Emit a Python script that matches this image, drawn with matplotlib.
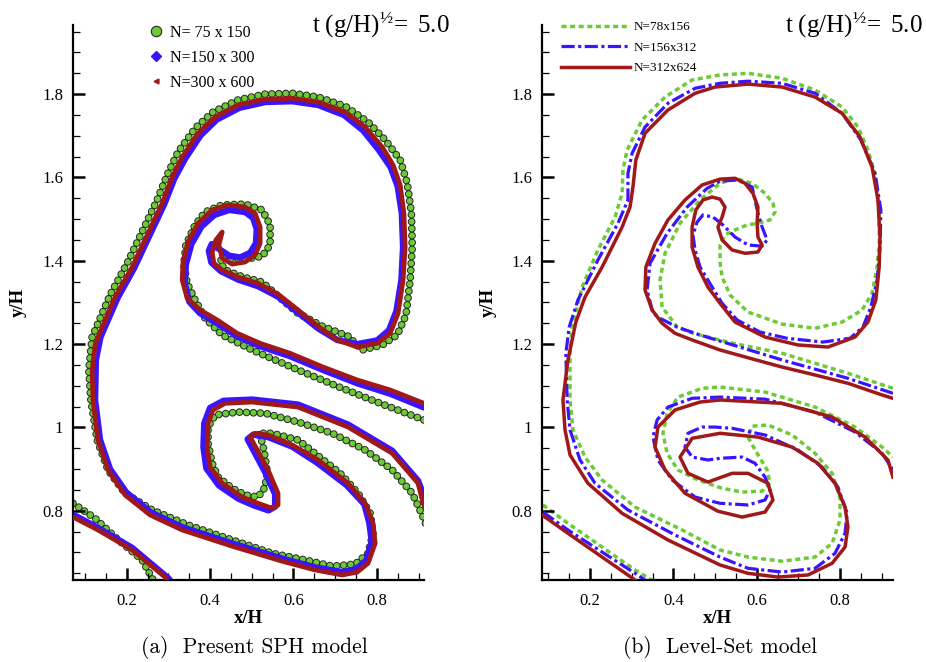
"""Interface at t(g/H)^1/2 = 5: SPH particles (a) vs Level-Set contours (b)."""

import matplotlib.pyplot as plt
from matplotlib.lines import Line2D
from matplotlib.ticker import FuncFormatter, MultipleLocator

plt.rcParams["font.family"] = "Liberation Serif"
plt.rcParams["mathtext.fontset"] = "custom"
plt.rcParams["mathtext.rm"] = "Liberation Serif"
plt.rcParams["mathtext.it"] = "Liberation Serif:italic"
plt.rcParams["mathtext.bf"] = "Liberation Serif:bold"
plt.rcParams["lines.scale_dashes"] = False

GREEN = "#6ccb34"
BLUE = "#3a14ff"
RED = "#a01818"

# ---- (a) SPH, interface traced through the particle bands (x/H, y/H) ----
sph300_main = [
    (0.913, 1.058), (0.832, 1.090), (0.753, 1.114), (0.671, 1.145), (0.592, 1.178),
    (0.520, 1.202), (0.465, 1.226), (0.417, 1.258), (0.376, 1.282), (0.345, 1.310),
    (0.333, 1.354), (0.335, 1.397), (0.347, 1.445), (0.371, 1.490), (0.405, 1.522),
    (0.443, 1.534), (0.484, 1.529), (0.508, 1.514), (0.520, 1.481), (0.520, 1.442),
    (0.508, 1.414), (0.484, 1.397), (0.453, 1.392), (0.429, 1.406), (0.421, 1.438),
    (0.429, 1.469), (0.414, 1.450), (0.405, 1.421), (0.409, 1.394), (0.429, 1.378),
    (0.467, 1.361), (0.515, 1.346), (0.563, 1.320), (0.611, 1.282), (0.659, 1.243),
    (0.705, 1.210), (0.753, 1.193), (0.801, 1.202), (0.832, 1.226), (0.851, 1.274),
    (0.863, 1.354), (0.868, 1.433), (0.865, 1.514), (0.856, 1.582), (0.839, 1.630),
    (0.813, 1.673), (0.772, 1.721), (0.724, 1.757), (0.659, 1.781), (0.597, 1.790),
    (0.532, 1.788), (0.467, 1.774), (0.412, 1.745), (0.371, 1.706), (0.333, 1.649),
    (0.309, 1.601), (0.285, 1.538), (0.251, 1.466), (0.213, 1.385), (0.172, 1.313),
    (0.131, 1.217), (0.124, 1.198), (0.117, 1.138), (0.119, 1.066), (0.131, 0.970),
    (0.155, 0.898), (0.196, 0.838), (0.256, 0.790), (0.333, 0.754), (0.453, 0.715),
    (0.573, 0.679), (0.652, 0.658), (0.717, 0.646), (0.753, 0.653), (0.779, 0.674),
    (0.796, 0.722), (0.791, 0.770), (0.772, 0.818), (0.731, 0.866), (0.659, 0.922),
    (0.597, 0.958), (0.539, 0.982), (0.508, 0.986), (0.496, 0.977), (0.513, 0.946),
    (0.539, 0.898), (0.563, 0.842), (0.563, 0.814), (0.549, 0.806), (0.515, 0.818),
    (0.477, 0.833), (0.429, 0.866), (0.400, 0.905), (0.393, 0.953), (0.395, 1.010),
    (0.407, 1.042), (0.436, 1.058), (0.501, 1.061), (0.611, 1.049), (0.731, 1.001),
    (0.837, 0.938), (0.899, 0.866), (0.911, 0.818), (0.923, 0.790),
]
sph300_low = [(0.071, 0.785), (0.131, 0.754), (0.213, 0.706), (0.292, 0.641), (0.304, 0.622)]

sph150_main = [
    (0.913, 1.048), (0.832, 1.081), (0.753, 1.106), (0.671, 1.138), (0.592, 1.171),
    (0.520, 1.195), (0.465, 1.219), (0.417, 1.250), (0.376, 1.274), (0.350, 1.302),
    (0.339, 1.346), (0.342, 1.392), (0.355, 1.440), (0.379, 1.482), (0.410, 1.510),
    (0.446, 1.522), (0.484, 1.517), (0.503, 1.503), (0.512, 1.476), (0.510, 1.442),
    (0.496, 1.419), (0.472, 1.408), (0.446, 1.412), (0.422, 1.428), (0.404, 1.440),
    (0.397, 1.424), (0.403, 1.396), (0.426, 1.375), (0.467, 1.355), (0.515, 1.339),
    (0.563, 1.314), (0.611, 1.276), (0.659, 1.238), (0.705, 1.210), (0.753, 1.200),
    (0.801, 1.209), (0.829, 1.233), (0.847, 1.279), (0.859, 1.354), (0.863, 1.433),
    (0.860, 1.514), (0.850, 1.579), (0.833, 1.625), (0.804, 1.667), (0.767, 1.713),
    (0.721, 1.750), (0.659, 1.774), (0.597, 1.783), (0.532, 1.781), (0.470, 1.767),
    (0.416, 1.739), (0.377, 1.701), (0.340, 1.645), (0.314, 1.597), (0.290, 1.536),
    (0.256, 1.464), (0.218, 1.383), (0.178, 1.311), (0.137, 1.217), (0.126, 1.162),
    (0.124, 1.066), (0.136, 0.970), (0.160, 0.900), (0.199, 0.844), (0.258, 0.796),
    (0.335, 0.760), (0.455, 0.721), (0.574, 0.685), (0.653, 0.664), (0.717, 0.653),
    (0.750, 0.660), (0.775, 0.681), (0.788, 0.726), (0.782, 0.771), (0.770, 0.816),
    (0.727, 0.862), (0.656, 0.916), (0.597, 0.954), (0.539, 0.977), (0.504, 0.983),
    (0.490, 0.972), (0.507, 0.940), (0.532, 0.893), (0.556, 0.840), (0.556, 0.810),
    (0.540, 0.801), (0.505, 0.813), (0.468, 0.829), (0.421, 0.861), (0.391, 0.902),
    (0.384, 0.953), (0.386, 1.010), (0.400, 1.047), (0.432, 1.064), (0.501, 1.067),
    (0.611, 1.055), (0.731, 1.007), (0.837, 0.944), (0.899, 0.872), (0.923, 0.808),
]
sph150_low = [(0.071, 0.791), (0.131, 0.759), (0.213, 0.711), (0.300, 0.638), (0.313, 0.620)]

sph75_main = [
    (0.913, 1.018), (0.813, 1.056), (0.717, 1.094), (0.611, 1.138), (0.501, 1.186),
    (0.429, 1.222), (0.388, 1.262), (0.364, 1.306), (0.345, 1.346), (0.337, 1.390),
    (0.342, 1.438), (0.364, 1.486), (0.388, 1.517), (0.429, 1.534), (0.484, 1.536),
    (0.525, 1.522), (0.544, 1.486), (0.544, 1.438), (0.525, 1.411), (0.484, 1.404),
    (0.448, 1.406), (0.433, 1.414), (0.424, 1.397), (0.436, 1.378), (0.479, 1.361),
    (0.525, 1.349), (0.563, 1.315), (0.611, 1.274), (0.669, 1.243), (0.731, 1.219),
    (0.765, 1.186), (0.813, 1.198), (0.849, 1.222), (0.870, 1.270), (0.880, 1.354),
    (0.885, 1.433), (0.883, 1.514), (0.873, 1.586), (0.856, 1.642), (0.820, 1.690),
    (0.779, 1.733), (0.724, 1.771), (0.659, 1.793), (0.597, 1.802), (0.532, 1.800),
    (0.467, 1.786), (0.407, 1.757), (0.364, 1.718), (0.323, 1.661), (0.297, 1.606),
    (0.273, 1.546), (0.239, 1.474), (0.201, 1.394), (0.160, 1.318), (0.117, 1.217),
    (0.109, 1.138), (0.114, 1.066), (0.129, 0.970), (0.155, 0.898), (0.196, 0.842),
    (0.261, 0.802), (0.347, 0.766), (0.453, 0.730), (0.549, 0.698), (0.628, 0.682),
    (0.693, 0.667), (0.748, 0.672), (0.779, 0.698), (0.791, 0.746), (0.784, 0.794),
    (0.755, 0.842), (0.712, 0.890), (0.611, 0.970), (0.549, 0.986), (0.515, 0.986),
    (0.525, 0.965), (0.532, 0.929), (0.537, 0.893), (0.532, 0.857), (0.515, 0.833),
    (0.484, 0.838), (0.453, 0.854), (0.419, 0.881), (0.405, 0.914), (0.395, 0.962),
    (0.395, 1.001), (0.412, 1.030), (0.467, 1.037), (0.532, 1.034), (0.611, 1.013),
    (0.693, 0.986), (0.772, 0.946), (0.837, 0.898), (0.885, 0.842), (0.911, 0.785),
    (0.923, 0.754),
]
sph75_low = [(0.071, 0.818), (0.124, 0.782), (0.172, 0.737), (0.237, 0.682), (0.261, 0.638), (0.270, 0.622)]

# ---- (b) Level-Set zero contours (x/H, y/H) ----
ls312_main = [
    (0.927, 1.070), (0.901, 1.078), (0.819, 1.106), (0.740, 1.126), (0.661, 1.145),
    (0.584, 1.166), (0.512, 1.186), (0.445, 1.210), (0.404, 1.226), (0.373, 1.250),
    (0.349, 1.282), (0.332, 1.330), (0.334, 1.385), (0.356, 1.442), (0.387, 1.498),
    (0.428, 1.546), (0.469, 1.582), (0.512, 1.596), (0.548, 1.598), (0.572, 1.586),
    (0.591, 1.562), (0.603, 1.529), (0.601, 1.490), (0.603, 1.457), (0.613, 1.438),
    (0.603, 1.421), (0.572, 1.418), (0.541, 1.426), (0.517, 1.450), (0.507, 1.481),
    (0.517, 1.505), (0.524, 1.529), (0.512, 1.548), (0.493, 1.553), (0.471, 1.546),
    (0.454, 1.522), (0.445, 1.481), (0.445, 1.433), (0.459, 1.385), (0.483, 1.337),
    (0.512, 1.298), (0.548, 1.253), (0.620, 1.217), (0.699, 1.198), (0.771, 1.193),
    (0.836, 1.217), (0.867, 1.253), (0.886, 1.306), (0.894, 1.385), (0.896, 1.457),
    (0.891, 1.546), (0.877, 1.625), (0.848, 1.697), (0.805, 1.754), (0.740, 1.793),
    (0.661, 1.817), (0.579, 1.824), (0.500, 1.817), (0.452, 1.802), (0.387, 1.762),
    (0.332, 1.706), (0.310, 1.642), (0.303, 1.577), (0.296, 1.529), (0.277, 1.481),
    (0.229, 1.385), (0.188, 1.313), (0.166, 1.253), (0.147, 1.162), (0.135, 1.066),
    (0.140, 0.994), (0.152, 0.934), (0.195, 0.866), (0.277, 0.794), (0.387, 0.730),
    (0.512, 0.670), (0.579, 0.650), (0.651, 0.641), (0.723, 0.646), (0.781, 0.674),
    (0.812, 0.713), (0.819, 0.761), (0.812, 0.809), (0.788, 0.866), (0.747, 0.914),
    (0.685, 0.953), (0.603, 0.977), (0.512, 0.986), (0.445, 0.974), (0.416, 0.929),
    (0.435, 0.890), (0.483, 0.869), (0.541, 0.890), (0.579, 0.890), (0.627, 0.866),
    (0.639, 0.826), (0.620, 0.797), (0.565, 0.785), (0.507, 0.799), (0.428, 0.842),
    (0.380, 0.898), (0.356, 0.953), (0.363, 1.001), (0.404, 1.042), (0.464, 1.061),
    (0.512, 1.066), (0.661, 1.058), (0.781, 1.025), (0.860, 0.977), (0.915, 0.922),
    (0.927, 0.881),
]
ls312_low = [(0.085, 0.790), (0.147, 0.746), (0.229, 0.689), (0.308, 0.634), (0.332, 0.614)]

ls156_main = [
    (0.927, 1.082), (0.819, 1.118), (0.661, 1.162), (0.543, 1.198), (0.464, 1.222),
    (0.409, 1.241), (0.368, 1.262), (0.351, 1.274), (0.337, 1.330), (0.344, 1.394),
    (0.385, 1.466), (0.433, 1.529), (0.481, 1.574), (0.512, 1.591), (0.555, 1.594),
    (0.589, 1.577), (0.603, 1.514), (0.613, 1.481), (0.625, 1.450), (0.613, 1.435),
    (0.579, 1.438), (0.548, 1.457), (0.519, 1.486), (0.495, 1.505), (0.471, 1.510),
    (0.457, 1.493), (0.447, 1.462), (0.452, 1.426), (0.464, 1.385), (0.493, 1.337),
    (0.517, 1.298), (0.553, 1.258), (0.608, 1.229), (0.673, 1.214), (0.759, 1.205),
    (0.824, 1.214), (0.855, 1.241), (0.874, 1.289), (0.889, 1.354), (0.896, 1.433),
    (0.898, 1.522), (0.884, 1.610), (0.850, 1.690), (0.805, 1.754), (0.740, 1.802),
    (0.661, 1.826), (0.579, 1.831), (0.512, 1.826), (0.452, 1.814), (0.387, 1.778),
    (0.332, 1.721), (0.301, 1.658), (0.291, 1.610), (0.291, 1.546), (0.267, 1.490),
    (0.219, 1.402), (0.171, 1.306), (0.150, 1.241), (0.142, 1.178), (0.145, 1.066),
    (0.152, 0.994), (0.176, 0.922), (0.212, 0.866), (0.291, 0.802), (0.404, 0.742),
    (0.512, 0.689), (0.579, 0.662), (0.661, 0.653), (0.740, 0.662), (0.788, 0.698),
    (0.812, 0.746), (0.817, 0.794), (0.795, 0.857), (0.757, 0.905), (0.699, 0.946),
    (0.620, 0.982), (0.541, 0.998), (0.500, 1.001), (0.469, 1.001), (0.435, 0.986),
    (0.428, 0.953), (0.445, 0.929), (0.483, 0.922), (0.512, 0.926), (0.565, 0.929),
    (0.596, 0.914), (0.620, 0.881), (0.632, 0.850), (0.620, 0.826), (0.579, 0.814),
    (0.512, 0.818), (0.452, 0.833), (0.397, 0.874), (0.363, 0.922), (0.351, 0.977),
    (0.361, 1.018), (0.387, 1.049), (0.445, 1.070), (0.512, 1.073), (0.620, 1.068),
    (0.740, 1.037), (0.836, 0.989), (0.901, 0.938), (0.927, 0.898),
]
ls156_low = [(0.087, 0.797), (0.147, 0.754), (0.229, 0.701), (0.308, 0.650), (0.339, 0.629)]

ls78_main = [
    (0.927, 1.094), (0.819, 1.130), (0.661, 1.178), (0.543, 1.202), (0.447, 1.226),
    (0.409, 1.241), (0.373, 1.289), (0.368, 1.354), (0.380, 1.418), (0.416, 1.490),
    (0.464, 1.546), (0.512, 1.586), (0.548, 1.598), (0.589, 1.586), (0.620, 1.562),
    (0.639, 1.538), (0.644, 1.517), (0.632, 1.498), (0.603, 1.490), (0.577, 1.486),
    (0.548, 1.474), (0.524, 1.462), (0.512, 1.438), (0.512, 1.397), (0.517, 1.361),
    (0.536, 1.318), (0.579, 1.277), (0.661, 1.248), (0.740, 1.238), (0.805, 1.253),
    (0.853, 1.282), (0.877, 1.322), (0.889, 1.385), (0.894, 1.442), (0.894, 1.522),
    (0.886, 1.601), (0.867, 1.666), (0.843, 1.721), (0.805, 1.769), (0.740, 1.810),
    (0.661, 1.838), (0.579, 1.850), (0.512, 1.846), (0.445, 1.834), (0.380, 1.793),
    (0.325, 1.738), (0.289, 1.666), (0.279, 1.618), (0.277, 1.562), (0.260, 1.505),
    (0.219, 1.426), (0.181, 1.337), (0.157, 1.241), (0.152, 1.178), (0.152, 1.066),
    (0.159, 0.994), (0.188, 0.929), (0.229, 0.874), (0.308, 0.809), (0.421, 0.754),
    (0.512, 0.706), (0.579, 0.689), (0.661, 0.679), (0.740, 0.689), (0.781, 0.722),
    (0.800, 0.778), (0.800, 0.833), (0.781, 0.890), (0.740, 0.938), (0.685, 0.982),
    (0.627, 1.006), (0.589, 1.003), (0.579, 0.977), (0.601, 0.938), (0.625, 0.898),
    (0.632, 0.866), (0.613, 0.847), (0.565, 0.845), (0.517, 0.854), (0.459, 0.874),
    (0.411, 0.898), (0.385, 0.938), (0.375, 0.986), (0.385, 1.034), (0.411, 1.073),
    (0.469, 1.094), (0.512, 1.097), (0.620, 1.085), (0.740, 1.049), (0.836, 1.001),
    (0.901, 0.953), (0.927, 0.929),
]
ls78_low = [(0.087, 0.814), (0.147, 0.770), (0.229, 0.713), (0.308, 0.658), (0.356, 0.629)]

sph_labels = ["N= 75 x 150", "N=150 x 300", "N=300 x 600"]
ls_labels = ["N=78x156", "N=156x312", "N=312x624"]
time_label = r"$\mathrm{t\ (g/H)^{½}\!=\ 5.0}$"


def xy(path):
    return [p[0] for p in path], [p[1] for p in path]


def style_axes(ax, xlim):
    ax.set_xlim(*xlim)
    ax.set_ylim(0.634, 1.966)
    ax.spines[["top", "right"]].set_visible(False)
    ax.spines[["left", "bottom"]].set_linewidth(1.6)
    for axis in (ax.xaxis, ax.yaxis):
        axis.set_major_locator(MultipleLocator(0.2))
        axis.set_minor_locator(MultipleLocator(0.05))
        axis.set_major_formatter(FuncFormatter(lambda v, _: f"{v:g}"))
    ax.tick_params(which="both", direction="in", top=False, right=False)
    ax.tick_params(which="major", length=8.5, width=1.8, labelsize=12)
    ax.tick_params(which="minor", length=5, width=0.9)
    ax.tick_params(axis="x", which="major", pad=9.5)
    ax.tick_params(axis="y", which="major", pad=7)
    ax.set_xlabel("x/H", fontsize=13.5, fontweight="bold")
    ax.set_ylabel("y/H", fontsize=13.5, fontweight="bold")
    ax.xaxis.set_label_coords(0.5, -0.054)


fig = plt.figure(figsize=(9.26, 6.62), dpi=100)
ax1 = fig.add_axes([0.0788, 0.1239, 0.379, 0.8384])
ax2 = fig.add_axes([0.5853, 0.1239, 0.379, 0.8384])

# (a) particles: circles as a round-dotted stroke, dense bands as thick strokes
for path in (sph75_main, sph75_low):
    x, y = xy(path)
    ax1.plot(x, y, color="#262626", lw=5.6, dashes=(0.01, 5.0), dash_capstyle="round", zorder=1)
    ax1.plot(x, y, color=GREEN, lw=4.2, dashes=(0.01, 5.0), dash_capstyle="round", zorder=1.1)
for path in (sph150_main, sph150_low):
    x, y = xy(path)
    ax1.plot(x, y, color=BLUE, lw=4.6, solid_capstyle="round", solid_joinstyle="round", zorder=2)
for path in (sph300_main, sph300_low):
    x, y = xy(path)
    ax1.plot(x, y, color=RED, lw=3.4, solid_capstyle="round", solid_joinstyle="round", zorder=3)

handles = [
    Line2D([], [], ls="none", marker="o", ms=7.5, mfc=GREEN, mec="#262626", mew=0.8),
    Line2D([], [], ls="none", marker="D", ms=5, mfc=BLUE, mec=BLUE),
    Line2D([], [], ls="none", marker="<", ms=3.5, mfc=RED, mec=RED),
]
ax1.legend(handles, sph_labels, loc="upper left", bbox_to_anchor=(0.215, 1.0),
           frameon=False, fontsize=11.5, handlelength=1.0, handletextpad=0.35,
           labelspacing=0.55, borderpad=0, borderaxespad=0)

# (b) level-set contours
line_kw = [
    dict(color=GREEN, lw=2.5, dashes=(3.6, 2.6)),
    dict(color=BLUE, lw=2.3, dashes=(9.5, 2.5, 2.2, 2.5)),
    dict(color=RED, lw=2.5),
]
ls_lines = []
for paths, kw, z in zip(((ls78_main, ls78_low), (ls156_main, ls156_low), (ls312_main, ls312_low)),
                        line_kw, (1, 2, 3)):
    for i, path in enumerate(paths):
        x, y = xy(path)
        ln, = ax2.plot(x, y, zorder=z, solid_joinstyle="round", **kw)
        if i == 0:
            ls_lines.append(ln)
ax2.legend(ls_lines, ls_labels, loc="upper left", bbox_to_anchor=(0.054, 1.007),
           frameon=False, fontsize=9.5, handlelength=5.2, handletextpad=0.3,
           labelspacing=0.62, borderpad=0, borderaxespad=0)

style_axes(ax1, (0.071, 0.913))
style_axes(ax2, (0.0847, 0.927))
ax1.yaxis.set_label_coords(-0.131, 0.5)
ax2.yaxis.set_label_coords(-0.128, 0.5)

fig.text(450 / 926, 1 - 33 / 662, time_label, fontsize=18, ha="right", va="baseline")
fig.text(923 / 926, 1 - 33 / 662, time_label, fontsize=18, ha="right", va="baseline")

fig.text(254 / 926, 1 - 659 / 662, "(a)  Present SPH model", fontsize=15.5,
         family="cmr10", ha="center", va="bottom")
fig.text(720 / 926, 1 - 659 / 662, "(b)  Level-Set model", fontsize=15.5,
         family="cmr10", ha="center", va="bottom")

fig.savefig("out.png", dpi=100)
